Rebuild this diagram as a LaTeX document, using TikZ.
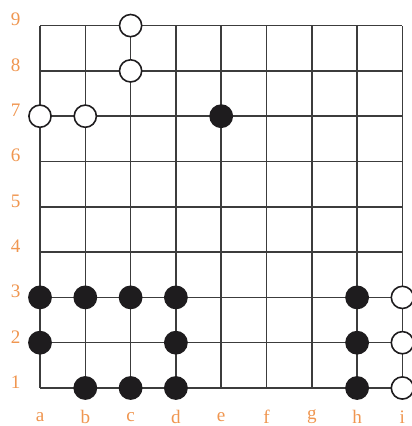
\documentclass[tikz,border=0pt]{standalone}
\usepackage{fontspec}
\setmainfont{Liberation Serif}
\usepackage{tikz}
\usetikzlibrary{backgrounds}
\definecolor{ink}{RGB}{30,28,30}
\definecolor{gridline}{RGB}{60,60,60}
\definecolor{coordlabel}{RGB}{240,150,80}
\tikzset{
    board/.style={
        draw=gridline,
        line width=0.9pt
    },
    stone/.style={
        circle,
        draw=ink,
        line width=1pt,
        minimum size=0.49cm,
        inner sep=0pt
    },
    blackstone/.style={stone, fill=ink},
    whitestone/.style={stone, fill=white},
    coordlabel/.style={
        font=\large,
        text=coordlabel
    }
}

\begin{document}
\begin{tikzpicture}[
    show background rectangle,
    background rectangle/.style={fill=white}
]

% fixed frame, the right column of stones is cut off
\useasboundingbox (0.117,0.161) rectangle (9.19,9.565);

% --- Board ---
\draw[board] (1,1) grid (9,9);

% --- Coordinates ---
\foreach \row in {1,...,9}
    \node[coordlabel] (row\row) at (0.46,\row+0.13) {\row};
\foreach \col/\name in {1/a,2/b,3/c,4/d,5/e,6/f,7/g,8/h,9/i}
    \node[coordlabel] (col\name) at (\col,0.36) {\name};

% --- White stones ---
\node[whitestone] (c9) at (3,9) {};
\node[whitestone] (c8) at (3,8) {};
\node[whitestone] (a7) at (1,7) {};
\node[whitestone] (b7) at (2,7) {};
\node[whitestone] (i3) at (9,3) {};
\node[whitestone] (i2) at (9,2) {};
\node[whitestone] (i1) at (9,1) {};

% --- Black stones ---
\node[blackstone] (e7) at (5,7) {};
\node[blackstone] (a3) at (1,3) {};
\node[blackstone] (b3) at (2,3) {};
\node[blackstone] (c3) at (3,3) {};
\node[blackstone] (d3) at (4,3) {};
\node[blackstone] (h3) at (8,3) {};
\node[blackstone] (a2) at (1,2) {};
\node[blackstone] (d2) at (4,2) {};
\node[blackstone] (h2) at (8,2) {};
\node[blackstone] (b1) at (2,1) {};
\node[blackstone] (c1) at (3,1) {};
\node[blackstone] (d1) at (4,1) {};
\node[blackstone] (h1) at (8,1) {};

\end{tikzpicture}
\end{document}
